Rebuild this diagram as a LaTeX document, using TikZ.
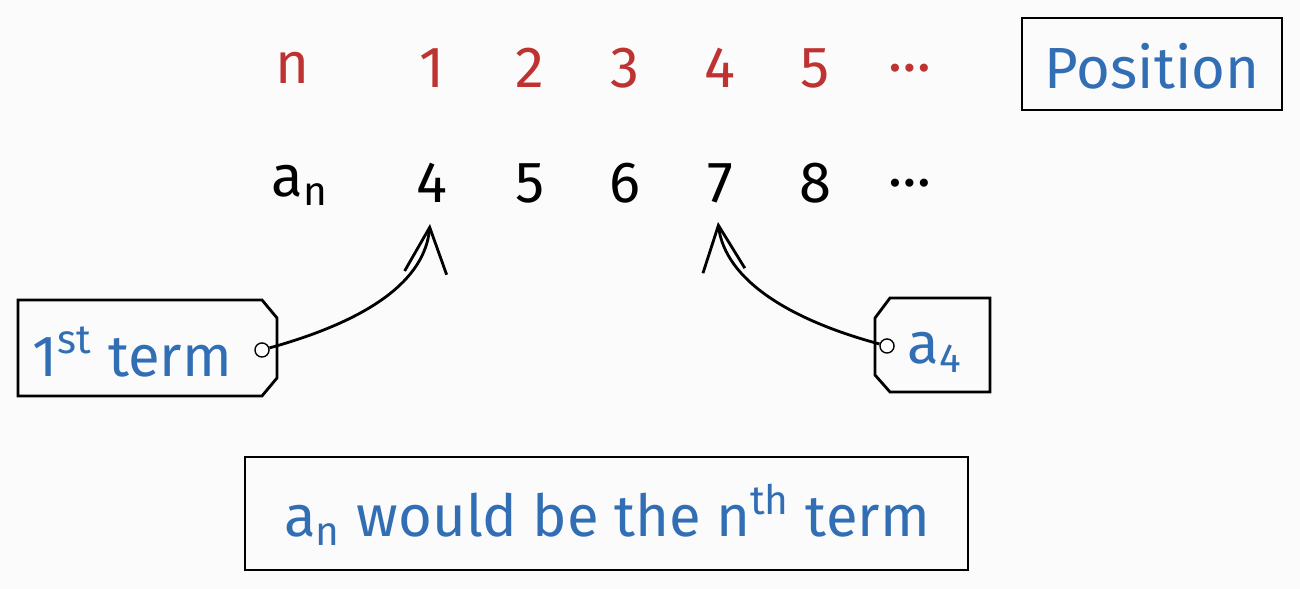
\documentclass[tikz,border=0pt]{standalone}
\usepackage{fontspec}
\setmainfont{Fira Sans}
\usetikzlibrary{arrows.meta}
\definecolor{posred}{RGB}{190,50,50}
\definecolor{termblue}{RGB}{50,110,180}

\begin{document}
\begin{tikzpicture}[x=0.01cm,y=-0.01cm,
    thick,
    >={Straight Barb[length=13pt,width=12pt]},
    lbl/.style = {font=\fontsize{16.5}{20}\selectfont},
    idx/.style = {lbl, text=posred},
    trm/.style = {lbl, text=termblue},
    hole/.style = {draw, circle, fill=white, inner sep=0pt, minimum size=4pt, thin}
  ]
  \useasboundingbox[fill=gray!3] (0,0) rectangle (1300,589);

  % positions
  \node[idx] (n) at (292,68) {n};
  \foreach \k/\x in {1/432,2/530,3/625,4/720,5/815}
    \node[idx] (p\k) at (\x,68) {\k};
  \node[idx] (pdots) at (910,68) {\dots};

  % terms
  \node[lbl] (an) at (300,185) {a\textsubscript{n}};
  \foreach \k/\v/\x in {1/4/432,2/5/530,3/6/625,4/7/720,5/8/815}
    \node[lbl] (t\k) at (\x,183) {\v};
  \node[lbl] (tdots) at (910,183) {\dots};

  \draw (1022,18) rectangle (1282,110);
  \node[trm] (poslbl) at (1152,66) {Position};

  % tags
  \draw (18,300) -- (262,300) -- (277,318) -- (277,378) -- (262,396) -- (18,396) -- cycle;
  \node[trm] (first) at (132,352) {1\textsuperscript{st} term};
  \node[hole] (h1) at (262,350) {};
  \draw (990,298) -- (890,298) -- (875,318) -- (875,375) -- (890,392) -- (990,392) -- cycle;
  \node[trm] (afour) at (935,352) {a\textsubscript{4}};
  \node[hole] (h2) at (887,346) {};

  \coordinate (tip1) at (430,224);
  \coordinate (tip2) at (718,222);
  \draw[->] (h1) .. controls (370,320) and (425,280) .. (tip1);
  \draw[->] (h2) .. controls (790,320) and (725,280) .. (tip2);

  % note
  \draw (245,457) rectangle (968,570);
  \node[trm] (note) at (607,515) {a\textsubscript{n} would be the n\textsuperscript{th} term};
\end{tikzpicture}
\end{document}
